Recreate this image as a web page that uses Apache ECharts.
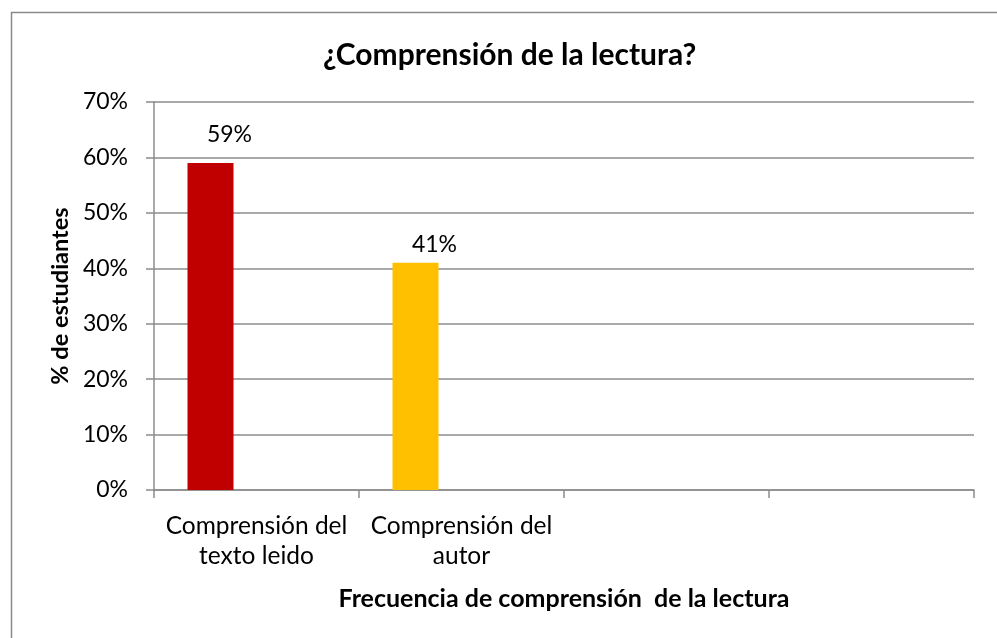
<!DOCTYPE html>
<html>
<head>
<meta charset="utf-8">
<script src="https://cdn.jsdelivr.net/npm/echarts@6/dist/echarts.min.js"></script>
<style>html,body{margin:0;padding:0;background:#fff;}#c{width:997px;height:638px;}</style>
</head>
<body>
<div id="c"></div>
<script>
const categories = ['Comprensión del\ntexto leido', 'Comprensión del\nautor', '', ''];
const values = [59, 41, null, null];
const barColors = ['#C00000', '#FFC000'];
const yTicks = [0, 10, 20, 30, 40, 50, 60, 70];

const FONT = 'Lato';
const labelDistance = [17, 7];
const chart = echarts.init(document.getElementById('c'));
chart.setOption({
  animation: false,
  textStyle: { fontFamily: FONT },
  graphic: [{
    type: 'rect', left: 9, top: 10, silent: true,
    shape: { width: 1000, height: 700 },
    style: { fill: 'none', stroke: '#8a8a8a', lineWidth: 1.5 }
  }],
  title: {
    text: '¿Comprensión de la lectura?',
    left: 318, top: 35,
    textStyle: { fontFamily: FONT, fontWeight: 'bold', fontSize: 30, color: '#000' }
  },
  grid: { left: 154, right: 23, top: 102, bottom: 148 },
  xAxis: {
    type: 'category',
    data: categories,
    name: 'Frecuencia de comprensión  de la lectura',
    nameLocation: 'middle',
    nameGap: 96,
    nameTextStyle: { fontFamily: FONT, fontWeight: 'bold', fontSize: 25, color: '#000' },
    axisLine: { lineStyle: { color: '#8c8c8c', width: 1.5 } },
    axisTick: { show: true, length: 8, lineStyle: { color: '#8c8c8c', width: 1.5 } },
    axisLabel: { color: '#000', fontSize: 24.5, lineHeight: 30, margin: 21, interval: 0 }
  },
  yAxis: {
    type: 'value',
    min: 0, max: 70, interval: 10,
    name: '% de estudiantes',
    nameLocation: 'middle',
    nameGap: 80,
    nameRotate: 90,
    nameTextStyle: { fontFamily: FONT, fontWeight: 'bold', fontSize: 23.5, color: '#000' },
    axisLine: { show: true, lineStyle: { color: '#8c8c8c', width: 1.5 } },
    axisTick: { show: true, length: 8, lineStyle: { color: '#8c8c8c', width: 1.5 } },
    splitLine: { lineStyle: { color: '#8c8c8c', width: 1.5 } },
    axisLabel: {
      color: '#000', fontSize: 23, margin: 26,
      formatter: v => yTicks.includes(v) ? v + '%' : ''
    }
  },
  series: [
    {
      type: 'bar', barWidth: 46, barGap: '0%',
      data: values.map((v, i) => v == null ? null : {
        value: v,
        itemStyle: { color: barColors[i] },
        label: { distance: labelDistance[i] }
      }),
      label: { show: true, position: 'top', offset: [19, 0], formatter: '{c}%', color: '#000', fontSize: 23, fontFamily: FONT }
    },
    { type: 'bar', barWidth: 46, barGap: '0%', data: [null, null, null, null] },
    { type: 'bar', barWidth: 46, barGap: '0%', data: [null, null, null, null] }
  ]
});
</script>
</body>
</html>
